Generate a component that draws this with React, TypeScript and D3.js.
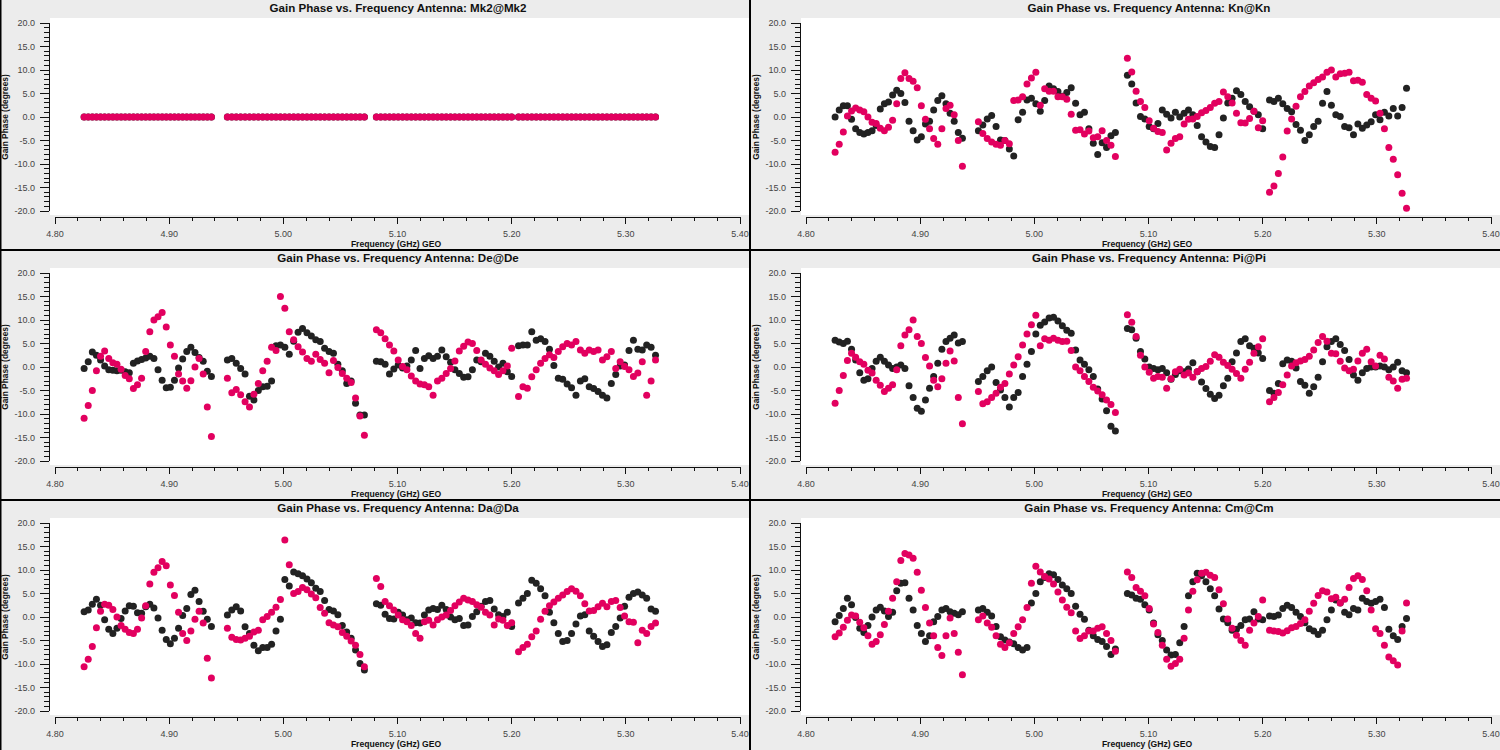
import React from "react";
import * as d3 from "d3";

// Spectral windows (GHz) and channels per window
const SPW_START = [4.8255, 4.951, 5.0815, 5.206];
const SPW_END = [4.937, 5.071, 5.2, 5.326];
const CHANNELS = 32;

const X_TICKS = [4.8, 4.9, 5.0, 5.1, 5.2, 5.3, 5.4];
const Y_TICKS = [-20, -15, -10, -5, 0, 5, 10, 15, 20];

const ANTENNAS = ["Mk2@Mk2", "Kn@Kn", "De@De", "Pi@Pi", "Da@Da", "Cm@Cm"];

const Z = [0, 0, 0, 0, 0, 0, 0, 0, 0, 0, 0, 0, 0, 0, 0, 0, 0, 0, 0, 0, 0, 0, 0, 0, 0, 0, 0, 0, 0, 0, 0, 0];
const mk2Black = [Z, Z, Z, Z];
const mk2Pink = [Z, Z, Z, Z];

const knBlack = [
  [0, 1.5, 2.4, 2.4, -0.5, -2.5, -3.3, -3.6, -3.3, -2.9, -1.8, 1.7, 2.8, 3.2, 4.7, 5.7, 5, 3.1, -0.9, -2.9, -4.9, -4.2, -1.5, -0.9, 1.5, 3.5, 4.5, 2.8, 0.8, -0.9, -3.3, -4.5],
  [-2.9, -1.7, -0.4, 0.3, -2, -4.9, -5, -6.8, -8.3, -0.6, 1, 3.6, 4, 2.8, 1.2, 3.5, 6.6, 6, 5.4, 4.4, 5.2, 6.2, 2.9, 0.5, 1, -2.5, -5.6, -8, -5.5, -6.5, -4, -3.3],
  [8.9, 7, 3, 0.1, -0.4, -2, -2.5, -1.4, 1.5, 0.6, -0.2, 1, 0, 0.8, 1.5, 0.5, -1.8, -4.2, -5.3, -6.3, -6.5, -3.8, -0.2, 3, 4, 5.6, 4.8, 3.3, 2.2, 1.2, 0.5, -2.5],
  [3.6, 3.3, 4, 2.8, 1.8, 1.1, -1.6, -2.8, -5, -3.8, -2, -0.9, 2.9, 5.4, 2.5, 0.5, 0.1, -2, -2.3, -3.8, -1.5, -2.4, -1.7, -1, 0.5, -0.6, 1, 0.2, 1.8, 0.2, 2, 6.1],
];
const knPink = [
  [-7.5, -5.8, -3.2, 0.2, 1.3, 1.9, 1.5, 1.1, 0, -1.1, -1.4, -2.4, -2.9, -2.2, -0.7, 2.8, 8.2, 9.4, 8.2, 7.6, 6.2, 2.4, -0.5, -2.5, -4.6, -5.8, -2.5, 1.8, 2.5, 0.5, -5, -10.5],
  [-1, -3.5, -4.6, -5.3, -5.8, -6, -5, -5.7, 3.5, 3.6, 4.3, 7, 8.3, 9.5, 2.5, 6, 5.5, 5.5, 4.3, 4.3, 3.8, 0.6, -2.8, -2.7, -3.6, -3, -4.4, -4.2, -2.9, -5, -6, -8.4],
  [12.5, 9.6, 5.5, 3.3, 2, -0.8, -2.4, -3.1, -3.3, -7, -5.6, -4.6, -4.2, -1.5, -0.5, -0.4, 0.1, 0.9, 1.4, 2, 2.9, 3.3, 5.3, 4.3, 3, 0.8, -1.2, -1.3, -0.3, 1.2, -2.3, -0.8],
  [-16, -14.7, -12, -8.5, -3, -0.4, 2.3, 4.3, 5.4, 6.6, 7.3, 8, 8.5, 9.5, 10, 8.5, 9.2, 9.3, 9.5, 7.7, 7.8, 7.4, 4.8, 4, 3.4, 0.8, -2.5, -6.5, -9, -12.3, -16.2, -19.4],
];

const deBlack = [
  [-0.3, 1.1, 3.2, 2.5, 1.5, 0.2, -0.6, -0.7, -0.8, -0.7, -1, -1.2, 0.8, 1.3, 1.6, 1.9, 2.3, 1.8, -0.6, -2.8, -4.4, -4.3, -2.8, -0.2, 1.7, 3.3, 4.2, 3.1, 2, 1.2, -0.9, -2],
  [1.5, 1.8, 0.8, -0.3, -1.5, -6.2, -7, -5, -4.2, -4.1, -3, 4.5, 4.7, 4.2, 2.7, 5.5, 7.4, 8.2, 7.3, 6.6, 5.8, 5.4, 4, 3.3, 2.9, 0.6, -0.8, -3.5, -3, -7.7, -10.2, -10.2],
  [1.2, 1.1, 0.6, -1.5, -0.4, 0.4, -0.2, 0.2, 1.5, 3.5, -0.3, 1.8, 2.4, 1.8, 2.3, 3.6, 2.2, 1, -0.6, -1.4, -2.2, -2.1, -0.6, 1.5, 1.1, 2.9, 2.3, 1.2, 0, 0.8, -1, -2],
  [4.5, 4.7, 4.7, 7.5, 5.7, 6, 5.4, 3.8, 0.3, -2.4, -2.6, -3.6, -4.4, -6, -3, -2.5, -4.2, -4.6, -5.2, -6, -6.6, -3.5, -1.6, 0.2, 0.4, 3.5, 5.7, 3.8, 3.6, 4.7, 4.2, 2.5],
];
const dePink = [
  [-10.9, -8.2, -5, -0.8, 2.3, 3.4, 1.8, 0.9, 0.6, -0.5, -1.8, -2.5, -4.6, -3.8, -2.4, 3.3, 7.5, 10, 10.7, 11.6, 8.5, 4.7, 2.3, -1.5, -3, -4.5, -2.9, 0, 1.8, -1.5, -8.5, -14.8],
  [-2.4, -5.5, -4.8, -5.9, -7.4, -8.5, -5.8, -3.5, -0.8, 1.2, 4.2, 3.5, 15, 12.5, 7.5, 5.8, 4.3, 3.2, 1.8, 1.2, 2.7, 1.6, 0.8, -1.2, 1.4, -0.1, -1.4, -2.4, -3.3, -6.6, -10.4, -14.5],
  [7.9, 7.3, 6, 4.7, 3.4, 1.5, 0.1, -0.6, -1.9, -3, -3.6, -3.8, -4.2, -6, -3, -2.4, -1.4, -0.3, 1.3, 3.4, 4.4, 5.3, 5, 3.5, 1.5, 0.6, -0.2, -0.8, -1.6, -0.8, 0.2, 4],
  [-6.3, -4.2, -4.5, -2.1, -0.6, 0.8, 1.8, 2.6, 2, 3.3, 4.3, 5, 4.7, 5.4, 3.6, 2.9, 3.6, 3.3, 3.6, 1.5, 2.2, 3.3, -0.3, 1.1, 0.1, -0.6, -2, -1.3, 1.1, -6, -3, 1.5],
];

const piBlack = [
  [5.7, 5.3, 5, 5.5, 3.8, 1.5, -1.2, -2.8, -2.5, -0.3, 1.2, 2.1, 1.2, 0.4, -0.3, 0, 0.4, -0.3, -4, -6.5, -8.8, -9.4, -7, -4.5, -2, 0.8, 3.8, 5.4, 6.1, 6.8, 5.1, 5.4],
  [-3.1, -2, -0.8, 0, -3.3, -4.9, -6.5, -8.5, -6.5, -5.4, -2, 0.6, 3.3, 7, 8.9, 9.6, 10.4, 10.6, 9.8, 8.8, 7.8, 7.2, 3.6, 1.5, 0.6, -0.6, -2, -4.7, -6.8, -9.3, -12.6, -13.6],
  [8.2, 7.9, 6.1, 3.3, 1.7, 0, -0.3, -0.6, -0.3, -1.2, -2.6, -1.6, -0.8, -1, -0.4, 0.9, -1, -3.2, -4.6, -5.8, -6.7, -6, -4, -2.4, 1.1, 3, 5.4, 6, 4.5, 4, 3, 1.8],
  [-5, -5.6, -3.5, 0.7, 1.5, 1.2, -0.2, -3.1, -3.9, -5.6, -4.2, -2.2, 1.1, 4.3, 5.4, 6, 4.8, 3.5, 1.6, -1.7, -2.8, -1.2, -0.3, 0, 0, 0.2, 0, -0.6, 0, 1, -0.8, -1.2],
];
const piPink = [
  [-7.7, -5, -1.8, 1.4, 2.9, 2.1, 1.1, 0.6, -0.7, -1.3, -2.8, -3.9, -5.2, -4.5, -3.8, -0.6, 4.5, 6.8, 7.9, 10, 6.5, 5, 2, 0.2, -2.8, -4.2, -2.5, 0.8, 3.4, 1.3, -6.5, -12.1],
  [-5.2, -7.8, -7.4, -6.5, -5.6, -4.3, -3.5, -1.5, 0.4, 2.2, 4.7, 7, 9, 11, 4.5, 6, 5.7, 6.1, 5.7, 5.4, 5.5, 3.5, 0, -0.8, -2, -3.1, -4.3, -5.1, -5.9, -7, -8, -9.7],
  [11.1, 9.5, 6.5, 2.5, 0, -1.1, -2.4, -2, -2.2, -4.5, -2.5, -1, -0.5, -1.7, -1.3, -2.2, -1, -0.3, 0.1, 1.2, 2.6, 2.1, 1, 0.3, -0.5, -1.4, -2.4, -0.5, 1, 2.9, 4.3, 6],
  [-7.4, -6.5, -5.4, -3.8, -1.7, 0.2, 0.9, 1.3, 1.6, 2.3, 3.6, 5.2, 6.5, 5.5, 2.9, 2.8, 1.2, -0.2, -0.8, -0.5, 1.3, 2.9, 3.8, 1.1, 0.2, 2.5, 1.7, -2.2, -3, -4.5, -2.6, -2.4],
];

const daBlack = [
  [1.1, 1.5, 2.7, 3.8, 2.5, -0.6, -2.6, -3.5, -2.4, -0.3, 1.3, 2.4, 2.3, 0.9, 0.8, 2.2, 2.7, 1.9, -0.2, -2.8, -4.8, -5.7, -4.5, -2.4, 0.3, 1.8, 4.8, 5.7, 3.3, 1.2, -0.5, -2],
  [0.4, 1.5, 2.2, 1.3, -2.1, -3.5, -6, -7.2, -6.5, -6.5, -5.8, -3, -0.5, 8, 6.6, 9.6, 9.2, 8.8, 8.1, 7.3, 6.1, 5.4, 3.5, 1.6, 1.3, 0.5, -1.8, -3.2, -4.5, -7, -9.9, -11.3],
  [2.8, 2.5, 0.6, -0.3, -0.4, 1, 0.4, -0.6, -0.2, -1.2, -1.3, 0.4, 1.5, 1.8, 1.6, 2.5, 1.6, 0, -0.6, -0.3, -1.8, -1.7, 0.1, 1.1, 2.3, 3.3, 3.5, 1.7, 0.5, 0.1, 1, -2],
  [3, 4, 5, 7.8, 7.2, 6, 4.5, 1, -1.2, -3.5, -5.2, -5, -3.5, -1.5, 0.2, 0.5, -3, -4.1, -5.2, -6.3, -5.9, -3.3, -2, -0.2, 2.3, 4.2, 5, 5.3, 4.7, 4, 1.7, 1.2],
];
const daPink = [
  [-10.6, -9, -6.3, -2.3, 1.2, 2.7, 2.5, 1.6, 0, -1.8, -2.6, -3.3, -3.5, -2.6, -0.2, 2.4, 7, 9.5, 10.5, 11.8, 10.9, 6.8, 4.6, 1, -3.5, -5, -3, -0.5, 1.2, -1.3, -8.8, -13],
  [-2.4, -4.3, -4.8, -4.9, -4.5, -4.1, -3.2, -2.8, -0.6, 0.1, 1, 2.1, 3.7, 16.4, 11.1, 5, 5.4, 6.3, 5.8, 4.9, 4.1, 2, 0.8, -1.2, -1.7, -2.1, -3.3, -4.1, -5.1, -6, -8, -10.6],
  [8.2, 6.5, 3.3, 2.4, 1.5, 0.4, -0.6, -1, -1.8, -3.5, -4.5, -1, -0.7, -1.7, -0.6, 0, 0.4, 1.4, 2.4, 3.2, 4, 3.6, 3.3, 2.6, 2.1, 1, 0.4, -1.7, -0.4, -0.7, -1.8, -1.2],
  [-7.4, -6.5, -5.8, -4.2, -3, -0.5, 1.2, 2.4, 3.2, 4, 4.7, 5.4, 6, 5.5, 4.5, 2.8, 1.3, 1.4, 2.2, 2.9, 2.2, 3.3, 3.5, 2, 0.2, -1, -1.1, -5.5, -2.8, -3.5, -2, -1.3],
];

const cmBlack = [
  [-1, 0.3, 1.8, 4, 2.6, -0.1, -2.4, -3.3, -1.8, 0, 1.5, 2.1, 1.3, 0.1, 1, 5.6, 7.2, 7.3, 4, 1.5, -1.8, -3.5, -5.2, -4, -1, 0.1, 1.5, 1.8, 1.1, 0.8, 0.5, 1.1],
  [1.5, 1.8, 1, 0.2, -2, -4.2, -4.9, -5.3, -5.7, -6.5, -7, -6.5, 3, 5, 7.5, 8.4, 9.2, 9, 8, 6.8, 6, 5, 2.3, 0.6, -0.5, -2.8, -4, -4.8, -5.2, -6.3, -8, -6.8],
  [5, 4.7, 4, 3.8, 2.6, 1.5, -1.3, -3.8, -5, -7, -8.1, -8, -5.5, -2, 4.5, 7.5, 9.3, 8.8, 7.5, 6, 4.5, 1.7, -0.4, -1.2, -2.8, -2.6, -1.8, -0.6, -0.4, 1.1, -0.4, -0.6],
  [0.2, 0.1, 0.4, 1.8, 2.5, 2, 1, 0.1, -1.2, -2.5, -3, -3.7, -2.8, -0.6, 1.5, 3.6, 3, 1, 0.5, 1.8, 1.5, 4, 3.3, 2.9, 3.3, 3.8, 2, -2.6, -4, -4.8, -2, -0.3],
];
const cmPink = [
  [-4.2, -3.4, -2.2, -0.7, 0.4, 0.2, -1.1, -2.3, -4, -5.8, -5.2, -3.8, -1.6, 1.2, 4, 7.5, 12, 13.5, 13.2, 12.5, 9.5, 5.7, 2, -1.3, -4, -6.5, -8.2, -4, -0.2, -3.5, -7.5, -12.3],
  [-0.6, 0.2, -1.3, -2.2, -4, -5.8, -6.5, -5.5, -3.5, -2.1, -0.6, 2, 7.2, 10.8, 9.6, 8.6, 8.1, 7, 5.3, 3.6, 2.1, 0.9, -3, -4.6, -4, -3, -3, -2.4, -2.1, -3.5, -5, -7.3],
  [9.6, 8.4, 6.3, 5.5, 4.5, 1.8, -1.5, -3.3, -6, -9, -10.5, -9.9, -9, -4.5, 1.5, 5.5, 7.9, 9.3, 9.5, 8.9, 8.4, 5.8, 2.8, -0.4, -2.4, -3.9, -5, -6, -2.8, -1.3, 0.1, 3.6],
  [-2.8, -3, -3.1, -3.4, -2.9, -2.3, -2, -1.4, -0.6, 1.2, 2.9, 4.6, 5.6, 5.3, 3.9, 4.2, 3, 3.8, 6.3, 8.2, 8.8, 8, 5.6, 1.5, -2.5, -3.5, -6, -8.5, -9.3, -10.2, -3, 3],
];

const BLACK_SERIES = [mk2Black, knBlack, deBlack, piBlack, daBlack, cmBlack];
const PINK_SERIES = [mk2Pink, knPink, dePink, piPink, daPink, cmPink];

const PANEL_W = 750;
const PANEL_H = 250;
const FONT = "'Liberation Sans', Arial, Helvetica, sans-serif";
const BLACK = "#222222";
const PINK = "#e2005f";

const x = d3.scaleLinear().domain([4.8, 5.4]).range([55, 740]);
const y = d3.scaleLinear().domain([-20, 20]).range([211, 23]);

function chanFreq(s: number, i: number) {
  return SPW_START[s] + (i * (SPW_END[s] - SPW_START[s])) / (CHANNELS - 1);
}

function Points({ series, color }: { series: number[][]; color: string }) {
  return (
    <g fill={color}>
      {series.map((vals, s) =>
        vals.map((v, i) => (
          <circle key={s + "-" + i} cx={x(chanFreq(s, i))} cy={y(v)} r={3.5} />
        ))
      )}
    </g>
  );
}

function Panel({ idx }: { idx: number }) {
  const col = idx % 2;
  const row = Math.floor(idx / 2);
  const ox = col * PANEL_W + (col === 1 ? 1 : 0);
  const oy = row * PANEL_H;
  const xMinor = x.ticks(30);
  const yMinor = y.ticks(40);
  const cx = 398;
  return (
    <g transform={`translate(${ox},${oy})`}>
      <rect x={0} y={0} width={PANEL_W} height={PANEL_H} fill="#ececec" />
      <rect x={50} y={18} width={PANEL_W - 50} height={197} fill="#ffffff" />
      <text x={cx} y={12} textAnchor="middle" fontFamily={FONT} fontSize={11.6} fontWeight="bold" fill="#111">
        {"Gain Phase vs. Frequency Antenna: " + ANTENNAS[idx]}
      </text>
      {/* y axis */}
      <g stroke="#111" strokeWidth={1} shapeRendering="crispEdges">
        <line x1={49} x2={49} y1={y(20)} y2={y(-20)} />
        {yMinor.map((t) => (
          <line key={"ym" + t} x1={44} x2={49} y1={y(t)} y2={y(t)} />
        ))}
        {Y_TICKS.map((t) => (
          <line key={"yM" + t} x1={40} x2={49} y1={y(t)} y2={y(t)} />
        ))}
      </g>
      {Y_TICKS.map((t) => (
        <text key={"yl" + t} x={35} y={y(t)} dy="0.35em" textAnchor="end" fontFamily={FONT} fontSize={9} fill="#444">
          {t.toFixed(1)}
        </text>
      ))}
      {/* x axis */}
      <g stroke="#111" strokeWidth={1} shapeRendering="crispEdges">
        <line x1={x(4.8)} x2={x(5.4)} y1={217} y2={217} />
        {xMinor.map((t) => (
          <line key={"xm" + t} x1={x(t)} x2={x(t)} y1={217} y2={221} />
        ))}
        {X_TICKS.map((t) => (
          <line key={"xM" + t} x1={x(t)} x2={x(t)} y1={217} y2={224} />
        ))}
      </g>
      {X_TICKS.map((t) => (
        <text key={"xl" + t} x={x(t)} y={236.5} textAnchor="middle" fontFamily={FONT} fontSize={9} fill="#444">
          {t.toFixed(2)}
        </text>
      ))}
      <text x={396} y={247} textAnchor="middle" fontFamily={FONT} fontSize={8.6} fontWeight="bold" fill="#111">
        Frequency (GHz) GEO
      </text>
      <text
        transform={`translate(8,117) rotate(-90)`}
        textAnchor="middle"
        fontFamily={FONT}
        fontSize={8.4}
        fontWeight="bold"
        fill="#111"
      >
        Gain Phase (degrees)
      </text>
      <Points series={BLACK_SERIES[idx]} color={BLACK} />
      <Points series={PINK_SERIES[idx]} color={PINK} />
    </g>
  );
}

export default function App() {
  return (
    <svg
      width={1500}
      height={750}
      style={{ position: "absolute", left: 0, top: 0, display: "block" }}
    >
      <rect x={0} y={0} width={1500} height={750} fill="#ececec" />
      {ANTENNAS.map((_, i) => (
        <Panel key={i} idx={i} />
      ))}
      <g stroke="#000" strokeWidth={2}>
        <line x1={750} x2={750} y1={0} y2={750} />
        <line x1={0} x2={1500} y1={250} y2={250} />
        <line x1={0} x2={1500} y1={500} y2={500} />
      </g>
      <line x1={0.75} x2={0.75} y1={0} y2={750} stroke="#000" strokeWidth={1.5} />
    </svg>
  );
}
